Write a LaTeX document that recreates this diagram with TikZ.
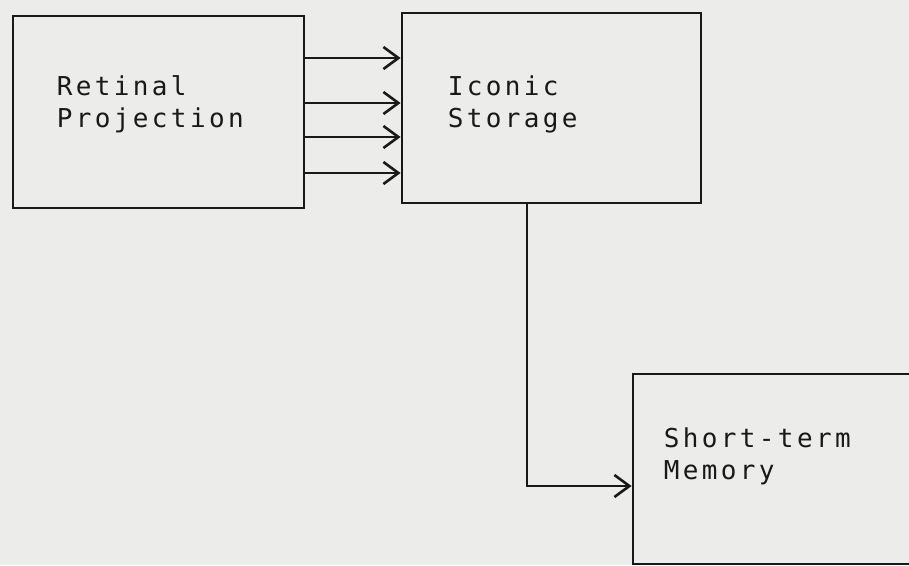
\documentclass[tikz,border=0pt]{standalone}
\usepackage{xcolor}
\usepackage{tikz}
\usepackage{fontspec}
\setmonofont{DejaVu Sans Mono}[LetterSpace=13]
\usetikzlibrary{arrows.meta, positioning, calc}
\definecolor{paper}{RGB}{236, 236, 234}
\definecolor{ink}{RGB}{25, 25, 25}

\tikzset{
    stagebox/.style={draw=ink, line width=2.8pt, minimum width=#1},
    stagetext/.style={anchor=base west, inner sep=0pt, text width=8cm, align=left,
                      text=ink, font=\ttfamily\fontsize{26}{32}\selectfont},
    flow/.style={draw=ink, line width=2.6pt, -{Straight Barb[length=15pt, width=22pt, line width=2.6pt]}}
}

\begin{document}
\begin{tikzpicture}[x=1pt, y=-1pt]
            \clip (0,0) rectangle (909,565);
            \fill[paper] (0,0) rectangle (909,565);
            % boxes
            \node[stagebox=291pt, minimum height=192pt] (retinal) at (158.5,112) {};
            \node[stagebox=299pt, minimum height=190pt] (iconic) at (551.5,108) {};
            \node[stagebox=330pt, minimum height=190pt] (stm) at (798,469) {};
            % labels
            \node[stagetext] (retinaltext) at ($(retinal.north west)+(45,81)$) {Retinal\\Projection};
            \node[stagetext] (iconictext) at ($(iconic.north west)+(47,84)$) {Iconic\\Storage};
            \node[stagetext] (stmtext) at ($(stm.north west)+(32,75)$) {Short-term\\Memory};
            % parallel channels
            \foreach \y in {58, 103, 137, 173} {
                \draw[flow] (retinal.east |- 0,\y) -- (iconic.west |- 0,\y);
            }
            % transfer to memory
            \coordinate (drop) at (527,0);
            \draw[flow] (iconic.south -| drop) |- (stm.west |- 0,486);
        \end{tikzpicture}
\end{document}
